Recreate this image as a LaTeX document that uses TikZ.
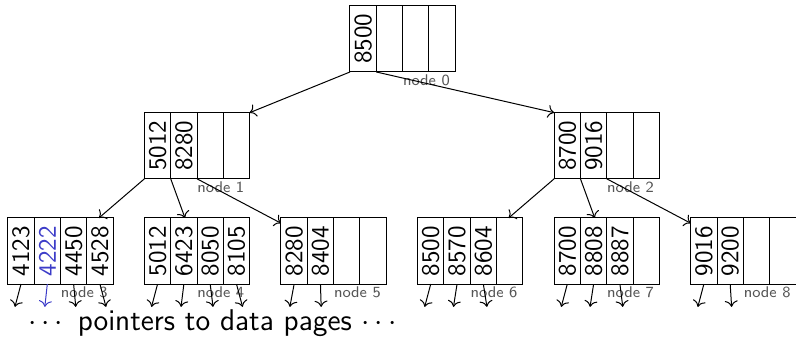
\documentclass[tikz,border=0pt]{standalone}
\usepackage{amsmath}
\usepackage{xcolor}
\usepackage{graphicx}
\usepackage{tikz}
\usetikzlibrary{arrows.meta, positioning, fit}
\definecolor{keyblue}{RGB}{60,60,200}
\definecolor{labelgray}{RGB}{85,85,85}

\tikzset{
  cell/.style={draw, minimum width=0.37cm, minimum height=0.93cm, inner sep=0pt, outer sep=0pt},
  nodelabel/.style={text=labelgray, font=\sffamily\fontsize{6.2}{7}\selectfont, inner sep=1pt, anchor=north east},
  ptr/.style={->}
}

% one B-tree page: name, lower left corner, four keys
\newcommand{\btpage}[6]{%
  \node[cell, anchor=south west] (#1-1) at (#2) {\rotatebox{90}{#3}};
  \node[cell, right=0pt of #1-1] (#1-2) {\rotatebox{90}{#4}};
  \node[cell, right=0pt of #1-2] (#1-3) {\rotatebox{90}{#5}};
  \node[cell, right=0pt of #1-3] (#1-4) {\rotatebox{90}{#6}};
  \node[fit=(#1-1)(#1-4), inner sep=0pt, outer sep=0pt] (#1) {};
}

\begin{document}
\begin{tikzpicture}[font=\sffamily]
                \useasboundingbox (0,0) rectangle (11.19,4.794);

                % root and inner level
                \btpage{n0}{4.92,3.782}{8500}{}{}{}
                \btpage{n1}{2.03,2.28}{5012}{8280}{}{}
                \btpage{n2}{7.79,2.28}{8700}{9016}{}{}

                % leaves
                \btpage{n3}{0.11,0.80}{4123}{\textcolor{keyblue}{4222}}{4450}{4528}
                \btpage{n4}{2.03,0.80}{5012}{6423}{8050}{8105}
                \btpage{n5}{3.95,0.80}{8280}{8404}{}{}
                \btpage{n6}{5.87,0.80}{8500}{8570}{8604}{}
                \btpage{n7}{7.79,0.80}{8700}{8808}{8887}{}
                \btpage{n8}{9.71,0.80}{9016}{9200}{}{}

                % page labels
                \foreach \k in {0,...,8}
                    \node[nodelabel] (lab\k) at ([xshift=-1pt]n\k.south east) {node \k};

                % child pointers
                \draw[ptr] (n0-1.south west) -- (n1.north east);
                \draw[ptr] (n0-1.south east) -- (n2.north west);
                \draw[ptr] (n1-1.south west) -- (n3);
                \draw[ptr] (n1-1.south east) -- (n4);
                \draw[ptr] (n1-2.south east) -- (n5);
                \draw[ptr] (n2-1.south west) -- (n6);
                \draw[ptr] (n2-1.south east) -- (n7);
                \draw[ptr] (n2-2.south east) -- (n8);

                % pointers to data pages
                \foreach \p/\dx in {n3-1/-0.085, n3-3/0.03, n3-4/0.085,
                                    n4-1/-0.085, n4-2/-0.04, n4-3/0.04, n4-4/0.085,
                                    n5-1/-0.06, n5-2/0.01,
                                    n6-1/-0.085, n6-2/-0.05, n6-3/0.05,
                                    n7-1/-0.085, n7-2/-0.05, n7-3/0.04,
                                    n8-1/-0.085, n8-2/0.02}
                    \draw[ptr] (\p.south) -- ++(\dx,-0.32);
                \draw[ptr, keyblue] (n3-2.south) -- ++(-0.035,-0.32);

                \node (datapages) at (3.02,0.25) {\large$\cdots$ pointers to data pages $\cdots$};
            \end{tikzpicture}
\end{document}
